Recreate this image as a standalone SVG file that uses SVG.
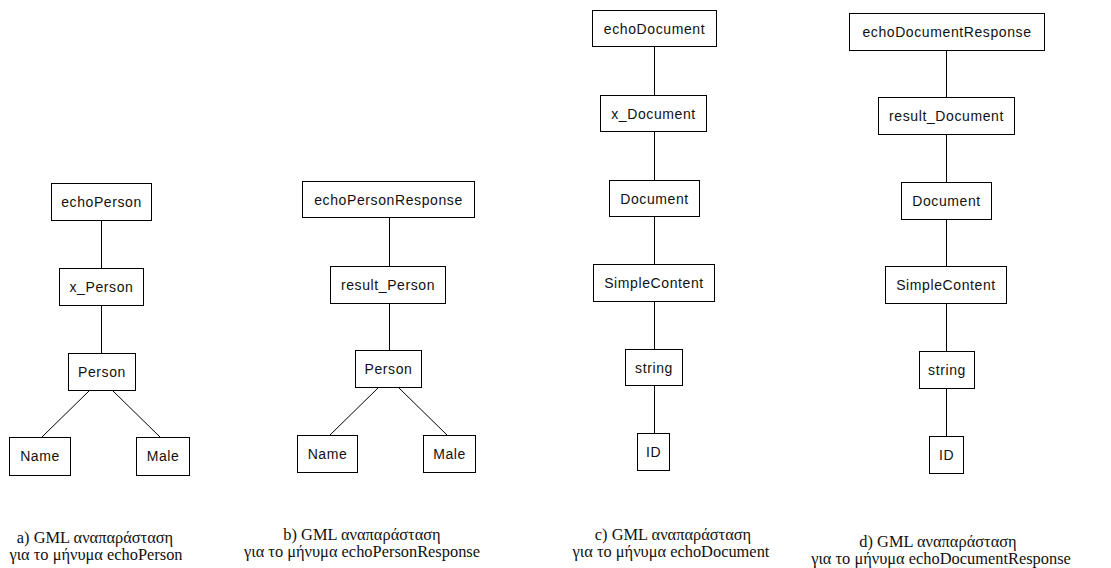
<svg xmlns="http://www.w3.org/2000/svg" width="1111" height="568" viewBox="0 0 1111 568">
<style>
.box{fill:#fff;stroke:#000;stroke-width:1}
.lbl{font-family:"Liberation Sans",Arial,sans-serif;font-size:14px;letter-spacing:0.6px;fill:#111;text-anchor:middle}
.cap{font-family:"Liberation Serif","Times New Roman",serif;font-size:16.4px;fill:#111;text-anchor:middle}
#connectors line{stroke:#000;stroke-width:1}
</style>
<rect width="1111" height="568" fill="#fff"/>
<g id="connectors">
<line x1="101.5" y1="220" x2="101.5" y2="268"/>
<line x1="101.5" y1="305" x2="101.5" y2="353"/>
<line x1="90" y1="390" x2="42" y2="437"/>
<line x1="112" y1="390" x2="160" y2="437"/>
<line x1="389.5" y1="218" x2="389.5" y2="267"/>
<line x1="389.5" y1="303" x2="389.5" y2="350"/>
<line x1="379" y1="387" x2="329" y2="436"/>
<line x1="398" y1="387" x2="448" y2="436"/>
<line x1="654.5" y1="47" x2="654.5" y2="96"/>
<line x1="654.5" y1="132" x2="654.5" y2="180"/>
<line x1="654.5" y1="216" x2="654.5" y2="264"/>
<line x1="654.5" y1="301" x2="654.5" y2="349"/>
<line x1="654.5" y1="386" x2="654.5" y2="433"/>
<line x1="946.5" y1="50" x2="946.5" y2="98"/>
<line x1="946.5" y1="134" x2="946.5" y2="182"/>
<line x1="946.5" y1="219" x2="946.5" y2="267"/>
<line x1="946.5" y1="303" x2="946.5" y2="352"/>
<line x1="946.5" y1="388" x2="946.5" y2="437"/>
</g>
<g id="a_echoPerson"><rect class="box" x="51.5" y="183.5" width="100" height="37"/><text class="lbl" x="101.5" y="207">echoPerson</text></g>
<g id="a_x_Person"><rect class="box" x="59.5" y="268.5" width="84" height="37"/><text class="lbl" x="101.5" y="292">x_Person</text></g>
<g id="a_Person"><rect class="box" x="68.5" y="353.5" width="67" height="37"/><text class="lbl" x="102" y="377">Person</text></g>
<g id="a_Name"><rect class="box" x="9.5" y="437.5" width="61" height="38"/><text class="lbl" x="40" y="461">Name</text></g>
<g id="a_Male"><rect class="box" x="136.5" y="437.5" width="53" height="38"/><text class="lbl" x="163" y="461">Male</text></g>

<g id="b_echoPersonResponse"><rect class="box" x="302.5" y="181.5" width="172" height="36"/><text class="lbl" x="388.5" y="205">echoPersonResponse</text></g>
<g id="b_result_Person"><rect class="box" x="330.5" y="266.5" width="115" height="37"/><text class="lbl" x="388" y="290">result_Person</text></g>
<g id="b_Person"><rect class="box" x="355.5" y="350.5" width="66" height="37"/><text class="lbl" x="388.5" y="374">Person</text></g>
<g id="b_Name"><rect class="box" x="297.5" y="435.5" width="60" height="37"/><text class="lbl" x="327.5" y="459">Name</text></g>
<g id="b_Male"><rect class="box" x="423.5" y="435.5" width="52" height="37"/><text class="lbl" x="449.5" y="459">Male</text></g>

<g id="c_echoDocument"><rect class="box" x="592.5" y="10.5" width="124" height="36"/><text class="lbl" x="654.5" y="34">echoDocument</text></g>
<g id="c_x_Document"><rect class="box" x="600.5" y="95.5" width="106" height="36"/><text class="lbl" x="653.5" y="119">x_Document</text></g>
<g id="c_Document"><rect class="box" x="609.5" y="180.5" width="90" height="36"/><text class="lbl" x="654.5" y="204">Document</text></g>
<g id="c_SimpleContent"><rect class="box" x="593.5" y="264.5" width="121" height="37"/><text class="lbl" x="654" y="288">SimpleContent</text></g>
<g id="c_string"><rect class="box" x="625.5" y="349.5" width="57" height="36"/><text class="lbl" x="654" y="373">string</text></g>
<g id="c_ID"><rect class="box" x="637.5" y="433.5" width="32" height="37"/><text class="lbl" x="653.5" y="457">ID</text></g>

<g id="d_echoDocumentResponse"><rect class="box" x="849.5" y="13.5" width="195" height="37"/><text class="lbl" x="947" y="37">echoDocumentResponse</text></g>
<g id="d_result_Document"><rect class="box" x="878.5" y="97.5" width="136" height="37"/><text class="lbl" x="946.5" y="121">result_Document</text></g>
<g id="d_Document"><rect class="box" x="901.5" y="182.5" width="90" height="37"/><text class="lbl" x="946.5" y="206">Document</text></g>
<g id="d_SimpleContent"><rect class="box" x="885.5" y="266.5" width="121" height="37"/><text class="lbl" x="946" y="290">SimpleContent</text></g>
<g id="d_string"><rect class="box" x="919.5" y="351.5" width="55" height="37"/><text class="lbl" x="947" y="375">string</text></g>
<g id="d_ID"><rect class="box" x="929.5" y="436.5" width="34" height="37"/><text class="lbl" x="946.5" y="460">ID</text></g>

<g id="captions">
<text class="cap" x="95" y="543">a) GML αναπαράσταση</text>
<text class="cap" x="96" y="560">για το μήνυμα echoPerson</text>
<text class="cap" x="362" y="540">b) GML αναπαράσταση</text>
<text class="cap" x="362" y="557">για το μήνυμα echoPersonResponse</text>
<text class="cap" x="673" y="540">c) GML αναπαράσταση</text>
<text class="cap" x="671" y="557">για το μήνυμα echoDocument</text>
<text class="cap" x="938" y="547">d) GML αναπαράσταση</text>
<text class="cap" x="941" y="564">για το μήνυμα echoDocumentResponse</text>
</g>
</svg>
